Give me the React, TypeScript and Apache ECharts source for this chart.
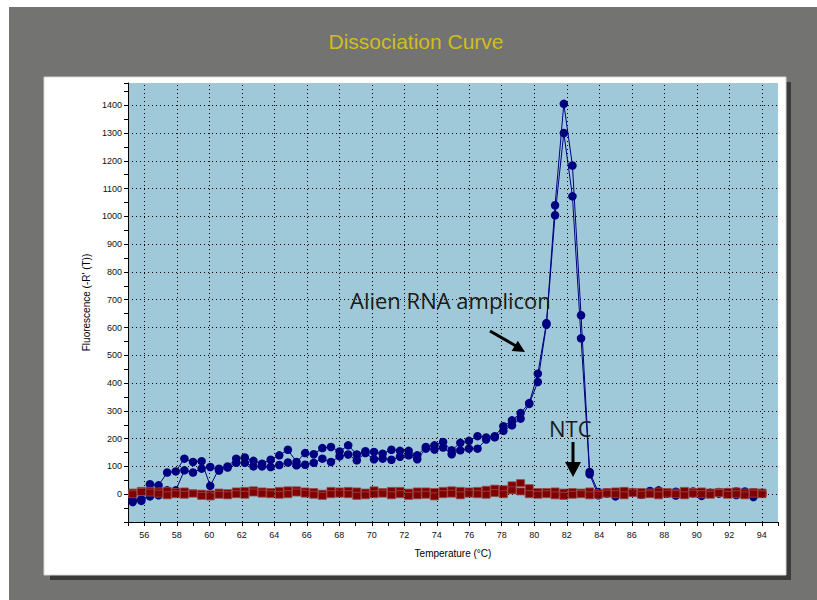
import React, { useEffect, useRef } from 'react';
import * as echarts from 'echarts';

// Temperature (°C) of each reading
const temperatures = [
  55.29, 55.82, 56.35, 56.88, 57.41, 57.94, 58.47, 59.0, 59.53, 60.06,
  60.6, 61.13, 61.66, 62.19, 62.72, 63.25, 63.78, 64.31, 64.84, 65.37,
  65.9, 66.43, 66.96, 67.49, 68.02, 68.55, 69.08, 69.61, 70.14, 70.67,
  71.21, 71.74, 72.27, 72.8, 73.33, 73.86, 74.39, 74.92, 75.45, 75.98,
  76.51, 77.04, 77.57, 78.1, 78.63, 79.16, 79.69, 80.22, 80.75, 81.28,
  81.82, 82.35, 82.88, 83.41, 83.94, 84.47, 85.0, 85.53, 86.06, 86.59,
  87.12, 87.65, 88.18, 88.71, 89.24, 89.77, 90.3, 90.83, 91.36, 91.89,
  92.43, 92.96, 93.49, 94.02,
];

// Alien RNA amplicon, replicate 1
const alienRep1 = [
  -22, -24, 36, 32, 78, 82, 128, 116, 119, 30,
  92, 100, 128, 132, 120, 110, 124, 140, 160, 116,
  148, 144, 166, 170, 154, 176, 143, 155, 152, 146,
  160, 156, 156, 140, 170, 176, 188, 158, 185, 192,
  209, 204, 209, 245, 266, 292, 328, 434, 616, 1040,
  1405, 1183, 644, 80, 8, 2, 5, 10, 6, 3,
  12, 8, 4, 9, 2, 10, 6, 4, 8, 3,
  10, 2, 6, 5,
];

// Alien RNA amplicon, replicate 2
const alienRep2 = [
  -28, -18, -8, -4, 14, 14, 86, 78, 92, 98,
  85, 96, 113, 113, 100, 100, 98, 105, 114, 104,
  106, 113, 128, 116, 136, 143, 122, 148, 126, 128,
  124, 135, 140, 126, 164, 161, 168, 144, 158, 164,
  164, 197, 205, 228, 248, 272, 325, 404, 610, 1004,
  1300, 1072, 561, 72, -4, 6, -8, 3, 8, -2,
  5, 14, 2, -5, 6, 3, -6, 5, 2, 8,
  -3, 10, -10, 2,
];

// NTC, replicate 1
const ntcRep1 = [
  6, 12, 12, 10, 12, 8, 10, 4, 2, 0,
  6, 4, 10, 12, 14, 10, 8, 12, 14, 14,
  10, 8, 2, 12, 10, 12, 10, 6, 14, 8,
  12, 12, 6, 10, 10, 8, 12, 14, 12, 10,
  12, 16, 20, 18, 32, 40, 22, 8, 8, 10,
  6, 8, 6, 10, 4, 8, 10, 12, 8, 8,
  6, 10, 8, 6, 12, 8, 10, 6, 8, 8,
  10, 6, 8, 6,
];

// NTC, replicate 2
const ntcRep2 = [
  0, 8, 6, 2, -4, 0, -2, 2, -6, -8,
  -2, -4, 0, -2, 6, 2, 0, -2, 0, 6,
  2, -2, -6, 0, 2, 0, -6, -4, 0, 2,
  -4, 0, -6, -4, -2, -8, 0, 2, -4, 2,
  0, -2, 4, 0, 14, 10, 0, -2, 0, -4,
  -6, -2, 0, -4, -2, 2, 0, -4, 4, -2,
  0, -4, 2, 0, -4, 2, 0, -2, 4, -2,
  0, -4, 2, 0,
];

// Labelled x ticks (vertical grid lines)
const xTickValues = [56, 58, 60, 62, 64, 66, 68, 70, 72, 74, 76, 78, 80, 82, 84, 86, 88, 90, 92, 94];

const LABEL_FONT = '"Liberation Sans", Arial, sans-serif';
const NOTE_FONT = '"Open Sans", Lato, sans-serif';

export default function App() {
  const ref = useRef<HTMLDivElement>(null);

  useEffect(() => {
    const chart = echarts.init(ref.current as HTMLDivElement, null, { renderer: 'svg' });
    const pair = (vals: number[]) => temperatures.map((t, i) => [t, vals[i]]);
    const blue = '#000080';
    const red = '#800000';

    chart.setOption({
      animation: false,
      backgroundColor: '#ffffff',
      graphic: [
        { type: 'rect', z: -10, silent: true, shape: { x: 9, y: 7, width: 808, height: 593 }, style: { fill: '#737371' } },
        { type: 'rect', z: -9, silent: true, shape: { x: 50, y: 82, width: 741, height: 498 }, style: { fill: '#3a3a3a' } },
        { type: 'rect', z: -8, silent: true, shape: { x: 44, y: 77, width: 742, height: 498 }, style: { fill: '#ffffff', stroke: '#d6d6d6', lineWidth: 1 } },
        {
          type: 'text', z: 100, x: 416, y: 41, silent: true,
          style: { text: 'Dissociation Curve', fill: '#d2bd1c', font: `21px ${LABEL_FONT}`, textAlign: 'center', textVerticalAlign: 'middle' },
        },
        {
          type: 'text', z: 100, x: 350, y: 300, silent: true,
          style: { text: 'Alien RNA amplicon', fill: '#1a1a1a', font: `22px ${NOTE_FONT}`, textAlign: 'left', textVerticalAlign: 'middle' },
        },
        { type: 'line', z: 100, silent: true, shape: { x1: 490, y1: 331, x2: 516, y2: 346 }, style: { stroke: '#000', lineWidth: 3 } },
        { type: 'polygon', z: 100, silent: true, shape: { points: [[525, 352], [511.6, 350.9], [517.8, 340.7]] }, style: { fill: '#000' } },
        {
          type: 'text', z: 100, x: 549, y: 428, silent: true,
          style: { text: 'NTC', fill: '#1a1a1a', font: `22px ${NOTE_FONT}`, textAlign: 'left', textVerticalAlign: 'middle' },
        },
        { type: 'line', z: 100, silent: true, shape: { x1: 573, y1: 442, x2: 573, y2: 463 }, style: { stroke: '#000', lineWidth: 3 } },
        { type: 'polygon', z: 100, silent: true, shape: { points: [[565, 462], [581, 462], [573, 477]] }, style: { fill: '#000' } },
      ],
      grid: {
        left: 128, top: 83, width: 650, height: 439,
        show: true, backgroundColor: '#9fc9d9', borderWidth: 0,
        containLabel: false, outerBoundsMode: 'none',
      },
      xAxis: {
        type: 'value', min: 55, max: 95, interval: 1,
        name: 'Temperature (°C)', nameLocation: 'middle', nameGap: 26,
        nameTextStyle: { fontSize: 10, color: '#000', fontFamily: LABEL_FONT },
        axisLine: { show: true, onZero: false, lineStyle: { color: '#000', width: 1 } },
        axisTick: { show: true, length: 4, lineStyle: { color: '#000' } },
        axisLabel: {
          fontSize: 9, color: '#111', fontFamily: LABEL_FONT, margin: 8,
          formatter: (v: number) => (Math.round(v) % 2 === 0 ? String(v) : ''),
        },
        splitLine: { show: false },
      },
      yAxis: {
        type: 'value', min: -100, max: 1480, interval: 100,
        name: "Fluorescence (-R' (T))", nameLocation: 'middle', nameGap: 35,
        nameTextStyle: { fontSize: 10, color: '#000', fontFamily: LABEL_FONT },
        axisLine: { show: true, onZero: false, lineStyle: { color: '#000', width: 1 } },
        axisTick: { show: true, length: 4, lineStyle: { color: '#000' } },
        minorTick: { show: true, splitNumber: 2, length: 4, lineStyle: { color: '#000' } },
        axisLabel: {
          fontSize: 9, color: '#111', fontFamily: LABEL_FONT, margin: 6,
          showMaxLabel: false,
          formatter: (v: number) => (v < 0 || v > 1400 ? '' : String(v)),
        },
        splitLine: { show: true, showMinLine: false, showMaxLine: false, lineStyle: { color: '#000', type: [1, 3], width: 1 } },
      },
      series: [
        {
          type: 'line', data: [], silent: true, symbol: 'none', z: 1,
          markLine: {
            silent: true, symbol: ['none', 'none'], label: { show: false },
            lineStyle: { color: '#000', type: [1, 3], width: 1 },
            emphasis: { disabled: true },
            data: xTickValues.map((t) => ({ xAxis: t })),
          },
        },
        {
          type: 'line', name: 'Alien RNA 1', data: pair(alienRep1), symbol: 'circle', symbolSize: 8.5, z: 3,
          itemStyle: { color: blue }, lineStyle: { color: blue, width: 1 },
        },
        {
          type: 'line', name: 'Alien RNA 2', data: pair(alienRep2), symbol: 'circle', symbolSize: 8.5, z: 3,
          itemStyle: { color: blue }, lineStyle: { color: blue, width: 1 },
        },
        {
          type: 'line', name: 'NTC 1', data: pair(ntcRep1), symbol: 'rect', symbolSize: [8, 7], z: 4,
          itemStyle: { color: red, borderColor: '#9a4a4a', borderWidth: 0.8 }, lineStyle: { color: red, width: 1 },
        },
        {
          type: 'line', name: 'NTC 2', data: pair(ntcRep2), symbol: 'rect', symbolSize: [8, 7], z: 4,
          itemStyle: { color: red, borderColor: '#9a4a4a', borderWidth: 0.8 }, lineStyle: { color: red, width: 1 },
        },
      ],
    });

    return () => chart.dispose();
  }, []);

  return (
    <div
      ref={ref}
      style={{ position: 'fixed', left: 0, top: 0, width: 817, height: 600 }}
    />
  );
}
